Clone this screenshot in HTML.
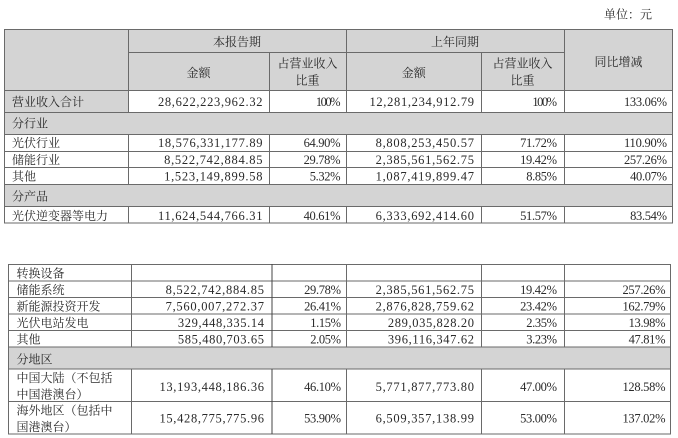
<!DOCTYPE html>
<html><head><meta charset="utf-8"><style>
html,body{margin:0;padding:0;background:#fff;}
svg{display:block;}
.c{font-family:"Liberation Serif","Noto Serif CJK SC",serif;font-size:12px;fill:#2a2a2a;}
.n{font-family:"Liberation Serif",serif;font-size:12.5px;fill:#2a2a2a;}
</style></head><body>
<svg width="678" height="438" viewBox="0 0 678 438" xmlns="http://www.w3.org/2000/svg">
<rect width="678" height="438" fill="#fff"/>
<text class="c" x="604" y="18.7">单位：元</text>

<!-- TOP TABLE backgrounds -->
<rect x="4" y="29" width="669" height="61.5" fill="#d4d4d4"/>
<rect x="4" y="90.5" width="124" height="21.5" fill="#d4d4d4"/>
<rect x="4" y="112" width="669" height="22" fill="#d4d4d4"/>
<rect x="4" y="184" width="669" height="22" fill="#d4d4d4"/>

<g stroke="#6a6a6a" stroke-width="1" fill="none">
<path d="M4 29.5H673M128 52.5H564M4 90.5H673M4 112.5H673M4 134.5H673M4 151.5H673M4 167.5H673M4 184.5H673M4 206.5H673M4 223H673"/>
<path d="M4.5 29V223M672.5 29V223"/>
<path d="M128.5 29V112M128.5 134V184M128.5 206V223"/>
<path d="M269.5 52V112M269.5 134V184M269.5 206V223"/>
<path d="M346.5 29V112M346.5 134V184M346.5 206V223"/>
<path d="M481.5 52V112M481.5 134V184M481.5 206V223"/>
<path d="M564.5 29V112M564.5 134V184M564.5 206V223"/>
</g>

<!-- top headers -->
<text class="c" x="237" y="46" text-anchor="middle">本报告期</text>
<text class="c" x="455" y="46" text-anchor="middle">上年同期</text>
<text class="c" x="198.5" y="77" text-anchor="middle">金额</text>
<text class="c" x="413.75" y="77" text-anchor="middle">金额</text>
<text class="c" x="307.5" y="67.5" text-anchor="middle">占营业收入</text>
<text class="c" x="307.5" y="84.5" text-anchor="middle">比重</text>
<text class="c" x="522.5" y="67.5" text-anchor="middle">占营业收入</text>
<text class="c" x="522.5" y="84.5" text-anchor="middle">比重</text>
<text class="c" x="618.5" y="66" text-anchor="middle">同比增减</text>

<!-- top rows -->
<text class="c" x="12" y="106">营业收入合计</text>
<text class="n" x="157.95" y="106" textLength="104.55" lengthAdjust="spacing">28,622,223,962.32</text>
<text class="n" x="315.9" y="106" textLength="24.6" lengthAdjust="spacing">100%</text>
<text class="n" x="369.45" y="106" textLength="104.55" lengthAdjust="spacing">12,281,234,912.79</text>
<text class="n" x="532.4" y="106" textLength="24.6" lengthAdjust="spacing">100%</text>
<text class="n" x="623.95" y="106" textLength="43.05" lengthAdjust="spacing">133.06%</text>

<text class="c" x="12" y="127.5">分行业</text>

<text class="c" x="12" y="147">光伏行业</text>
<text class="n" x="157.95" y="147" textLength="104.55" lengthAdjust="spacing">18,576,331,177.89</text>
<text class="n" x="303.6" y="147" textLength="36.9" lengthAdjust="spacing">64.90%</text>
<text class="n" x="375.6" y="147" textLength="98.4" lengthAdjust="spacing">8,808,253,450.57</text>
<text class="n" x="520.1" y="147" textLength="36.9" lengthAdjust="spacing">71.72%</text>
<text class="n" x="623.95" y="147" textLength="43.05" lengthAdjust="spacing">110.90%</text>

<text class="c" x="12" y="164">储能行业</text>
<text class="n" x="164.1" y="164" textLength="98.4" lengthAdjust="spacing">8,522,742,884.85</text>
<text class="n" x="303.6" y="164" textLength="36.9" lengthAdjust="spacing">29.78%</text>
<text class="n" x="375.6" y="164" textLength="98.4" lengthAdjust="spacing">2,385,561,562.75</text>
<text class="n" x="520.1" y="164" textLength="36.9" lengthAdjust="spacing">19.42%</text>
<text class="n" x="623.95" y="164" textLength="43.05" lengthAdjust="spacing">257.26%</text>

<text class="c" x="12" y="180.5">其他</text>
<text class="n" x="164.1" y="180.5" textLength="98.4" lengthAdjust="spacing">1,523,149,899.58</text>
<text class="n" x="309.75" y="180.5" textLength="30.75" lengthAdjust="spacing">5.32%</text>
<text class="n" x="375.6" y="180.5" textLength="98.4" lengthAdjust="spacing">1,087,419,899.47</text>
<text class="n" x="526.25" y="180.5" textLength="30.75" lengthAdjust="spacing">8.85%</text>
<text class="n" x="630.1" y="180.5" textLength="36.9" lengthAdjust="spacing">40.07%</text>

<text class="c" x="12" y="200.5">分产品</text>

<text class="c" x="12" y="220">光伏逆变器等电力</text>
<text class="n" x="157.95" y="220" textLength="104.55" lengthAdjust="spacing">11,624,544,766.31</text>
<text class="n" x="303.6" y="220" textLength="36.9" lengthAdjust="spacing">40.61%</text>
<text class="n" x="375.6" y="220" textLength="98.4" lengthAdjust="spacing">6,333,692,414.60</text>
<text class="n" x="520.1" y="220" textLength="36.9" lengthAdjust="spacing">51.57%</text>
<text class="n" x="630.1" y="220" textLength="36.9" lengthAdjust="spacing">83.54%</text>

<!-- BOTTOM TABLE -->
<rect x="8" y="347" width="662.5" height="22" fill="#d4d4d4"/>
<g stroke="#6a6a6a" stroke-width="1" fill="none">
<path d="M8 264.5H671M8 281H671M8 297.5H671M8 314H671M8 330.5H671M8 347H671M8 369H671M8 401.5H671M8 434H671"/>
<path d="M8.5 264V434M670.5 264V434"/>
<path d="M131.5 264V347M131.5 369V434"/>
<path d="M272 264V347M272 369V434" stroke="#444"/>
<path d="M346.5 264V347M346.5 369V434"/>
<path d="M481.5 264V347M481.5 369V434"/>
<path d="M564.5 264V347M564.5 369V434"/>
</g>

<text class="c" x="16.5" y="277.5">转换设备</text>

<text class="c" x="16.5" y="294">储能系统</text>
<text class="n" x="165.6" y="294" textLength="98.4" lengthAdjust="spacing">8,522,742,884.85</text>
<text class="n" x="304.1" y="294" textLength="36.9" lengthAdjust="spacing">29.78%</text>
<text class="n" x="375.6" y="294" textLength="98.4" lengthAdjust="spacing">2,385,561,562.75</text>
<text class="n" x="520.1" y="294" textLength="36.9" lengthAdjust="spacing">19.42%</text>
<text class="n" x="622.45" y="294" textLength="43.05" lengthAdjust="spacing">257.26%</text>

<text class="c" x="16.5" y="310.5">新能源投资开发</text>
<text class="n" x="165.6" y="310.5" textLength="98.4" lengthAdjust="spacing">7,560,007,272.37</text>
<text class="n" x="304.1" y="310.5" textLength="36.9" lengthAdjust="spacing">26.41%</text>
<text class="n" x="375.6" y="310.5" textLength="98.4" lengthAdjust="spacing">2,876,828,759.62</text>
<text class="n" x="520.1" y="310.5" textLength="36.9" lengthAdjust="spacing">23.42%</text>
<text class="n" x="622.45" y="310.5" textLength="43.05" lengthAdjust="spacing">162.79%</text>

<text class="c" x="16.5" y="327">光伏电站发电</text>
<text class="n" x="177.9" y="327" textLength="86.1" lengthAdjust="spacing">329,448,335.14</text>
<text class="n" x="310.25" y="327" textLength="30.75" lengthAdjust="spacing">1.15%</text>
<text class="n" x="387.9" y="327" textLength="86.1" lengthAdjust="spacing">289,035,828.20</text>
<text class="n" x="526.25" y="327" textLength="30.75" lengthAdjust="spacing">2.35%</text>
<text class="n" x="628.6" y="327" textLength="36.9" lengthAdjust="spacing">13.98%</text>

<text class="c" x="16.5" y="343.5">其他</text>
<text class="n" x="177.9" y="343.5" textLength="86.1" lengthAdjust="spacing">585,480,703.65</text>
<text class="n" x="310.25" y="343.5" textLength="30.75" lengthAdjust="spacing">2.05%</text>
<text class="n" x="387.9" y="343.5" textLength="86.1" lengthAdjust="spacing">396,116,347.62</text>
<text class="n" x="526.25" y="343.5" textLength="30.75" lengthAdjust="spacing">3.23%</text>
<text class="n" x="628.6" y="343.5" textLength="36.9" lengthAdjust="spacing">47.81%</text>

<text class="c" x="16.5" y="363.5">分地区</text>

<text class="c" x="16.5" y="382">中国大陆（不包括</text>
<text class="c" x="16.5" y="398.5">中国港澳台）</text>
<text class="n" x="159.45" y="391" textLength="104.55" lengthAdjust="spacing">13,193,448,186.36</text>
<text class="n" x="304.1" y="391" textLength="36.9" lengthAdjust="spacing">46.10%</text>
<text class="n" x="375.6" y="391" textLength="98.4" lengthAdjust="spacing">5,771,877,773.80</text>
<text class="n" x="520.1" y="391" textLength="36.9" lengthAdjust="spacing">47.00%</text>
<text class="n" x="622.45" y="391" textLength="43.05" lengthAdjust="spacing">128.58%</text>

<text class="c" x="16.5" y="414.5">海外地区（包括中</text>
<text class="c" x="16.5" y="431">国港澳台）</text>
<text class="n" x="159.45" y="422.5" textLength="104.55" lengthAdjust="spacing">15,428,775,775.96</text>
<text class="n" x="304.1" y="422.5" textLength="36.9" lengthAdjust="spacing">53.90%</text>
<text class="n" x="375.6" y="422.5" textLength="98.4" lengthAdjust="spacing">6,509,357,138.99</text>
<text class="n" x="520.1" y="422.5" textLength="36.9" lengthAdjust="spacing">53.00%</text>
<text class="n" x="622.45" y="422.5" textLength="43.05" lengthAdjust="spacing">137.02%</text>
</svg>
</body></html>
